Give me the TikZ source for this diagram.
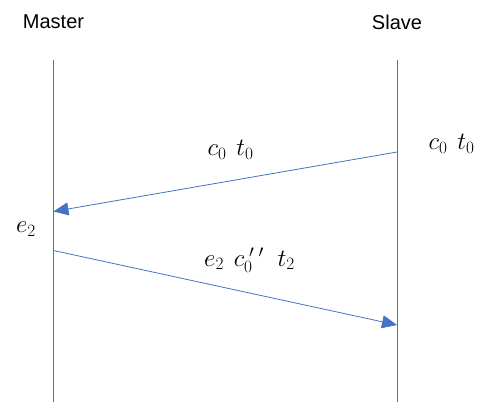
\documentclass[tikz,border=0pt]{standalone}
\usepackage{fontspec}
\setmainfont{Liberation Sans}
\usetikzlibrary{arrows.meta}
\definecolor{lineblue}{HTML}{4472C4}
\begin{document}
\begin{tikzpicture}[x=1pt,y=-1pt,
  lifeline/.style={draw=lineblue,line width=0.8pt},
  msg/.style={draw=lineblue,line width=0.8pt,-{Triangle[length=15pt,width=13pt,fill=lineblue]}},
  title/.style={font=\fontsize{20}{24}\selectfont,inner sep=0pt},
  mathlbl/.style={font=\fontsize{27}{32}\selectfont,inner sep=0pt}]
\useasboundingbox (0,0) rectangle (481,403);
\node[title] (master) at (53.5,22) {Master};
\node[title] (slave) at (397,22) {Slave};
\coordinate (mtop) at (53.5,60);
\coordinate (mbot) at (53.5,402);
\coordinate (stop) at (397,60);
\coordinate (sbot) at (397,402);
\draw[lifeline] (mtop) -- (mbot);
\draw[lifeline] (stop) -- (sbot);
\coordinate (s1) at (397,152);
\coordinate (m1) at (53.5,211.5);
\coordinate (m2) at (53.5,250.5);
\coordinate (s2) at (397,325);
\draw[msg] (s1) -- (m1);
\draw[msg] (m2) -- (s2);
\node[mathlbl] (l1) at (232,150) {$c_{0\,}\;t_{0\,}$};
\node[mathlbl] (l2) at (453,144) {$c_{0\,}\;t_{0\,}$};
\node[mathlbl] (l3) at (27.5,229) {$e_{2\,}$};
\node[mathlbl] (l4) at (251,260) {$e_{2\,}\;c_{0\,}^{\;\prime\;\prime}\;\;t_{2\,}$};
\end{tikzpicture}
\end{document}
